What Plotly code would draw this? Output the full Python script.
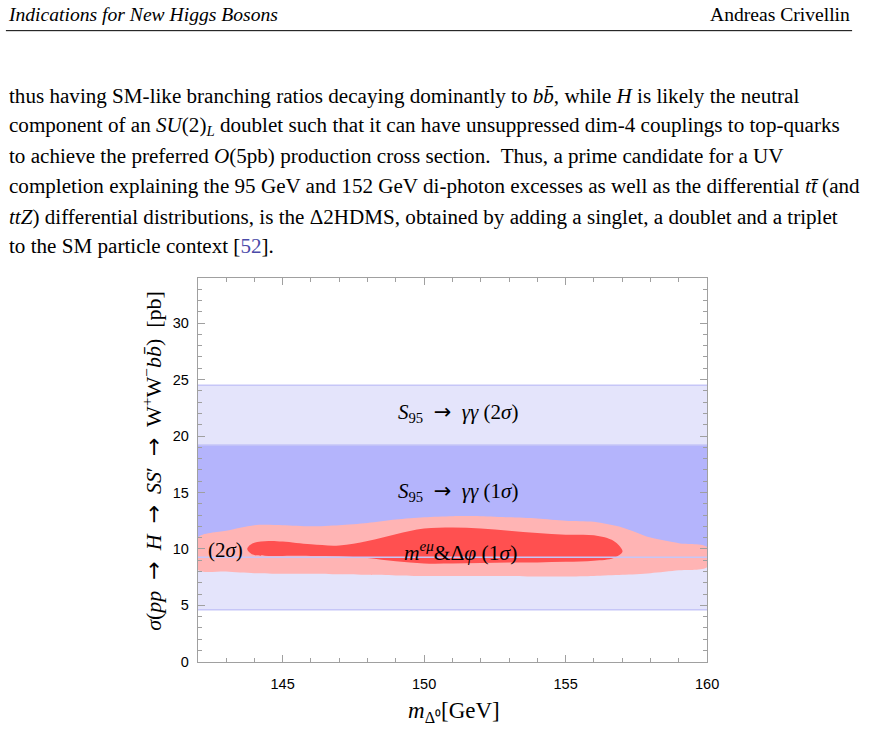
import plotly.graph_objects as go

# ---------------- data ----------------
x_range = [142, 160]
y_range = [0, 34]

band_2sigma = [4.6, 24.5]    # S95 -> gamma gamma (2 sigma)
band_1sigma = [9.25, 19.2]   # S95 -> gamma gamma (1 sigma)

# m^{e mu} & Delta phi, 2 sigma region
x_2s = [142, 143, 144, 145, 146, 147, 148, 149, 150, 151, 152, 153, 154, 155, 156, 157, 158, 159, 160]
upper_2s = [11.0, 11.6, 12.1, 12.1, 12.0, 12.1, 12.3, 12.6, 12.8, 12.9, 12.9, 12.8, 12.7, 12.5, 12.4, 11.9, 11.0, 10.5, 10.15]
lower_2s = [8.15, 8.0, 7.85, 7.8, 7.8, 7.75, 7.7, 7.65, 7.6, 7.6, 7.6, 7.6, 7.55, 7.55, 7.6, 7.7, 7.85, 8.1, 8.4]

# m^{e mu} & Delta phi, 1 sigma region
x_1s = [143.75, 143.95, 144.5, 145, 146, 147, 148, 149, 150, 151, 152, 153, 154, 155, 156, 156.7, 157.0]
upper_1s = [10.0, 10.5, 10.7, 10.65, 10.4, 10.3, 10.7, 11.3, 11.8, 11.9, 11.8, 11.6, 11.4, 11.25, 11.2, 10.7, 9.9]
lower_1s = [10.0, 9.5, 9.38, 9.38, 9.38, 9.35, 9.2, 8.9, 8.7, 8.7, 8.75, 8.8, 8.8, 8.85, 8.95, 9.2, 9.7]

x_ticks = [145, 150, 155, 160]
y_ticks = [0, 5, 10, 15, 20, 25, 30]

ARR = "<span style='font-family:DejaVu Sans'>→</span>"

header_left = "<i>Indications for New Higgs Bosons</i>"
header_right = "Andreas Crivellin"
body_lines = [
    "thus having SM-like branching ratios decaying dominantly to <i>b</i><i>b̄</i>, while <i>H</i> is likely the neutral",
    "component of an <i>SU</i>(2)<sub><i>L</i></sub> doublet such that it can have unsuppressed dim-4 couplings to top-quarks",
    "to achieve the preferred <i>O</i>(5pb) production cross section.  Thus, a prime candidate for a UV",
    "completion explaining the 95 GeV and 152 GeV di-photon excesses as well as the differential <i>tt̄</i> (and",
    "<i>ttZ</i>) differential distributions, is the Δ2HDMS, obtained by adding a singlet, a doublet and a triplet",
    "to the SM particle context [<span style='color:#4a4aa8'>52</span>].",
]
label_2s = "<i>S</i><sub>95</sub>  " + ARR + "  <i>γγ</i> (2<i>σ</i>)"
label_1s = "<i>S</i><sub>95</sub>  " + ARR + "  <i>γγ</i> (1<i>σ</i>)"
label_red = "<i>m</i><sup><i>eμ</i></sup>&amp;Δ<i>φ</i> (1<i>σ</i>)"
label_pink = "(2<i>σ</i>)"
y_title = ("<i>σ</i>(<i>pp</i>  " + ARR + "  <i>H</i>  " + ARR + "  <i>SS</i>′  " + ARR +
           "  W<sup>+</sup>W<sup>−</sup><i>b</i><i>b̄</i>)  [pb]")
x_title = "<i>m</i><sub>Δ⁰</sub>[GeV]"

# ---------------- style ----------------
C_2S = "#E4E4FB"
C_1S = "#B4B4FC"
C_EDGE = "#C6C6F7"
C_PINK = "#FFB4B4"
C_RED = "#FF5050"
SERIF = "Liberation Serif"
SANS = "Liberation Sans"

W, H = 871, 740
x0, x1 = 200.5, 717.0
ytop, ybot = 281.0, 669.0

fig = go.Figure()

for lo, hi, col in [(band_2sigma[0], band_2sigma[1], C_2S), (band_1sigma[0], band_1sigma[1], C_1S)]:
    fig.add_trace(go.Scatter(
        x=[x_range[0], x_range[1], x_range[1], x_range[0], x_range[0]],
        y=[lo, lo, hi, hi, lo], mode="lines", fill="toself",
        fillcolor=col, line=dict(width=0), hoverinfo="skip", showlegend=False))

fig.add_trace(go.Scatter(
    x=x_2s + x_2s[::-1] + [x_2s[0]], y=upper_2s + lower_2s[::-1] + [upper_2s[0]],
    mode="lines", fill="toself", fillcolor=C_PINK, line=dict(width=0, shape="spline", smoothing=0.8),
    hoverinfo="skip", showlegend=False))

fig.add_trace(go.Scatter(
    x=x_1s + x_1s[::-1], y=upper_1s + lower_1s[::-1],
    mode="lines", fill="toself", fillcolor=C_RED, line=dict(width=0, shape="spline", smoothing=1.0),
    hoverinfo="skip", showlegend=False))

for v in band_2sigma + band_1sigma:
    fig.add_trace(go.Scatter(x=x_range, y=[v, v], mode="lines",
                             line=dict(color=C_EDGE, width=1.5), hoverinfo="skip", showlegend=False))

def ann(x, y, text, size, xref="paper", yref="paper", xanchor="center", **kw):
    return dict(x=x, y=y, xref=xref, yref=yref, text=text, showarrow=False,
                xanchor=xanchor, yanchor="middle",
                font=dict(family=SERIF, size=size, color="black"), **kw)

annotations = []
annotations.append(ann(6 / W, 1 - 15 / H, header_left, 19.6, xanchor="left"))
annotations.append(ann(864 / W, 1 - 15 / H, header_right, 19.6, xanchor="right"))
line_y = [97, 127.5, 158, 188.5, 219, 249]
for t, yy in zip(body_lines, line_y):
    annotations.append(ann(7 / W, 1 - yy / H, t, 21.1, xanchor="left"))

annotations += [
    ann(151.2, 22.0, label_2s, 21, xref="x", yref="y"),
    ann(151.2, 15.0, label_1s, 21, xref="x", yref="y"),
    ann(151.3, 9.75, label_red, 21.5, xref="x", yref="y"),
    ann(142.97, 9.9, label_pink, 21, xref="x", yref="y"),
]
annotations.append(ann(154 / W, 1 - 466 / H, y_title, 22, textangle=-90))
annotations.append(ann(460 / W, 1 - 720 / H, x_title, 23))

shapes = [dict(type="line", xref="paper", yref="paper", x0=6 / W, x1=864 / W,
               y0=1 - 31 / H, y1=1 - 31 / H, line=dict(color="black", width=1))]

axis_common = dict(showgrid=False, zeroline=False, showline=True, linecolor="#A0A0A0", linewidth=1,
                   mirror="ticks", ticks="inside", ticklen=7, tickcolor="#A0A0A0", tickwidth=1,
                   tickfont=dict(family=SANS, size=14.5, color="black"))

fig.update_layout(
    width=W, height=H, margin=dict(l=0, r=0, t=0, b=0),
    paper_bgcolor="white", plot_bgcolor="white",
    xaxis=dict(range=x_range, domain=[x0 / W, x1 / W], tickvals=x_ticks,
               minor=dict(dtick=1, tick0=142, ticks="inside", ticklen=4, tickcolor="#A0A0A0"),
               ticklabelstandoff=9, **axis_common),
    yaxis=dict(range=y_range, domain=[1 - ybot / H, 1 - ytop / H], tickvals=y_ticks,
               minor=dict(dtick=1, tick0=0, ticks="inside", ticklen=4, tickcolor="#A0A0A0"),
               ticklabelstandoff=5, **axis_common),
    annotations=annotations, shapes=shapes,
)

fig.write_html("out.html")
